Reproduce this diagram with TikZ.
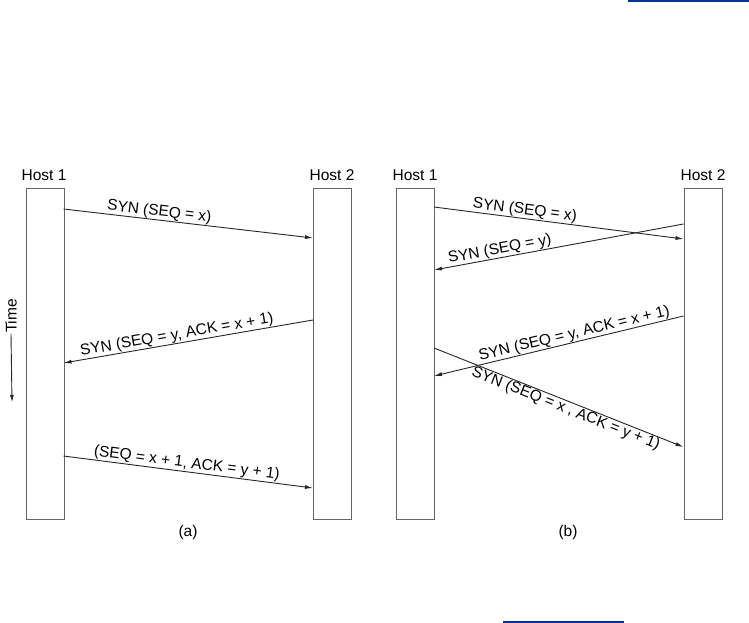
\documentclass[tikz,border=0pt]{standalone}
\usepackage{fontspec}
\setmainfont{Liberation Sans}
\usetikzlibrary{arrows.meta}
\definecolor{linkblue}{RGB}{0,51,153}
\tikzset{
  hostbox/.style={draw=black!60, line width=0.9pt, fill=white},
  msg/.style={draw=black!85, line width=0.9pt, -{Latex[length=8pt,width=4pt]}},
  lbl/.style={font=\fontsize{15.5}{16}\selectfont, inner sep=0.5pt},
  hostlbl/.style={font=\fontsize{15.5}{16}\selectfont, inner sep=0pt},
}
\begin{document}
\begin{tikzpicture}[x=1pt,y=-1pt]
\useasboundingbox (0,0) rectangle (749,623);
\fill[white] (0,0) rectangle (749,623);
% blue lines
\coordinate (b1) at (628,1); \coordinate (b2) at (749,1);
\draw[linkblue, line width=2pt] (b1) -- (b2);
\coordinate (b3) at (503,621.5); \coordinate (b4) at (624,621.5);
\draw[linkblue, line width=2pt] (b3) -- (b4);

% ---------- panel (a) ----------
\node[hostbox, minimum width=38pt, minimum height=331pt, inner sep=0pt, anchor=north west] (a1) at (25.5,188) {};
\node[hostbox, minimum width=38pt, minimum height=331pt, inner sep=0pt, anchor=north west] (a2) at (313,188) {};
\node[hostlbl] (ah1) at (44,175) {Host 1};
\node[hostlbl] (ah2) at (332,175) {Host 2};

\coordinate (a1s) at (63.5,209); \coordinate (a2e) at (313,238);
\draw[msg] (a1s) -- (a2e) node[lbl, pos=0.38, above, sloped] {SYN (SEQ = x)};
\coordinate (a2s) at (313,320); \coordinate (a1e) at (63.5,363);
\draw[msg] (a2s) -- (a1e) node[lbl, pos=0.54, above, sloped] {SYN (SEQ = y, ACK = x + 1)};
\coordinate (a1s2) at (63.5,456); \coordinate (a2e2) at (313,488);
\draw[msg] (a1s2) -- (a2e2) node[lbl, pos=0.49, above, sloped] {(SEQ = x + 1, ACK = y + 1)};

\node[lbl, rotate=90] (time) at (11,316) {Time};
\coordinate (t2) at (12,402);
\draw[black!85, line width=0.9pt, -{Latex[length=7pt,width=4pt]}] (time.west) -- (t2);
\node[lbl] (capa) at (188,532) {(a)};

% ---------- panel (b) ----------
\node[hostbox, minimum width=38pt, minimum height=331pt, inner sep=0pt, anchor=north west] (b1h) at (396,188) {};
\node[hostbox, minimum width=38pt, minimum height=331pt, inner sep=0pt, anchor=north west] (b2h) at (683.5,188) {};
\node[hostlbl] (bh1) at (415,175) {Host 1};
\node[hostlbl] (bh2) at (703,175) {Host 2};

\coordinate (p1) at (434,207); \coordinate (p2) at (683.5,239);
\draw[msg] (p1) -- (p2) node[lbl, pos=0.36, above, sloped] {SYN (SEQ = x)};
\coordinate (p3) at (683.5,224); \coordinate (p4) at (434,270);
\draw[msg] (p3) -- (p4) node[lbl, pos=0.73, above, sloped] {SYN (SEQ = y)};
\coordinate (p5) at (683.5,316); \coordinate (p6) at (434,376);
\draw[msg] (p5) -- (p6) node[lbl, pos=0.43, above, sloped] {SYN (SEQ = y, ACK = x + 1)};
\coordinate (p7) at (434,348); \coordinate (p8) at (683.5,447);
\draw[msg] (p7) -- (p8) node[lbl, pos=0.54, below, sloped] {SYN (SEQ = x , ACK = y + 1)};
\node[lbl] (capb) at (568,532) {(b)};
\end{tikzpicture}
\end{document}
